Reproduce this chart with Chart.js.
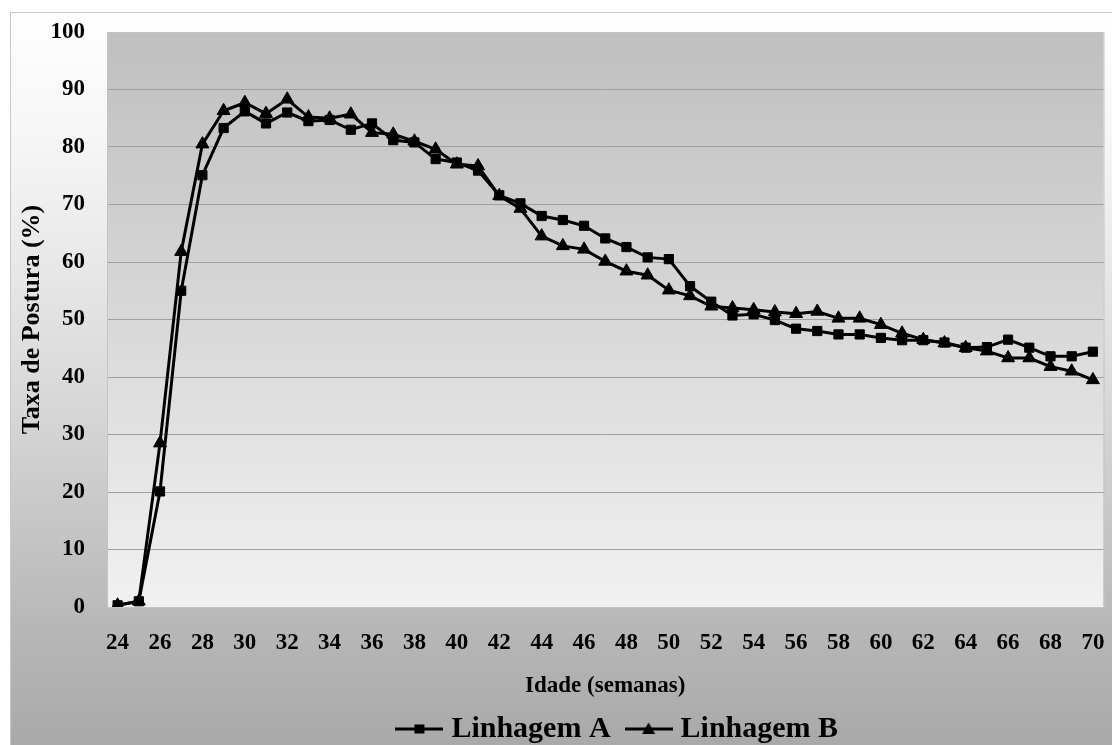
<!DOCTYPE html>
<html>
<head>
<meta charset="utf-8">
<script src="https://cdn.jsdelivr.net/npm/chart.js@4/dist/chart.umd.min.js"></script>
<style>
  html, body { margin: 0; padding: 0; background: #ffffff; overflow: hidden; }
  #wrap { position: relative; width: 1112px; height: 745px; }
</style>
</head>
<body>
<div id="wrap"><canvas id="c"></canvas></div>
<script>
// ---- data ----
const semanas = [24,25,26,27,28,29,30,31,32,33,34,35,36,37,38,39,40,41,42,43,44,45,46,47,
                 48,49,50,51,52,53,54,55,56,57,58,59,60,61,62,63,64,65,66,67,68,69,70];
const linhagemA = [0.3,1.0,20.1,55.0,75.1,83.3,86.2,84.1,86.0,84.5,84.7,83.0,84.1,81.2,80.8,77.9,
                   77.3,75.9,71.6,70.2,68.0,67.3,66.3,64.1,62.6,60.8,60.5,55.8,53.1,50.7,50.9,49.9,
                   48.4,48.0,47.4,47.4,46.8,46.4,46.4,46.0,45.1,45.2,46.5,45.1,43.6,43.6,44.4];
const linhagemB = [0.3,1.0,28.5,61.8,80.5,86.3,87.7,85.8,88.3,85.2,85.0,85.7,82.5,82.2,81.0,79.6,
                   77.0,76.7,71.5,69.3,64.5,62.8,62.2,60.1,58.4,57.7,55.1,54.1,52.3,52.0,51.7,51.3,
                   51.0,51.4,50.2,50.2,49.1,47.6,46.5,45.9,45.1,44.5,43.3,43.3,41.8,41.0,39.5];
const xTickLabels = ['24','26','28','30','32','34','36','38','40','42','44','46','48','50','52','54',
                     '56','58','60','62','64','66','68','70'];
const seriesNames = ['Linhagem A','Linhagem B'];
const yTitle = 'Taxa de Postura (%)';
const xTitle = 'Idade (semanas)';

const FONT = '"Liberation Serif", "Times New Roman", serif';

// legend symbols: line with marker
function legendSymbol(kind) {
  const c = document.createElement('canvas');
  c.width = 48; c.height = 16;
  const g = c.getContext('2d');
  g.strokeStyle = '#000'; g.lineWidth = 3;
  g.beginPath(); g.moveTo(0, 8); g.lineTo(48, 8); g.stroke();
  g.fillStyle = '#000';
  if (kind === 'rect') {
    g.fillRect(19, 3.5, 10, 9);
  } else {
    g.beginPath(); g.moveTo(24, 1.5); g.lineTo(30.5, 13); g.lineTo(17.5, 13); g.closePath(); g.fill();
  }
  return c;
}
const legendSymbols = [legendSymbol('rect'), legendSymbol('triangle')];

const backgroundPlugin = {
  id: 'bg',
  afterLayout(chart) {
    const l = chart.legend;
    if (l) { l.left += 15; l.right += 15; }
  },
  beforeDraw(chart) {
    const {ctx, width, height, chartArea: a} = chart;
    ctx.save();
    ctx.fillStyle = '#ffffff';
    ctx.fillRect(0, 0, width, height);
    const og = ctx.createLinearGradient(0, 12, 0, height);
    og.addColorStop(0, '#ffffff');
    og.addColorStop(0.2, '#f4f4f4');
    og.addColorStop(0.55, '#d6d6d6');
    og.addColorStop(0.85, '#b6b6b6');
    og.addColorStop(1, '#a9a9a9');
    ctx.fillStyle = og;
    ctx.fillRect(10, 12, width - 10, height - 12);
    ctx.strokeStyle = '#c8c8c8';
    ctx.lineWidth = 1;
    ctx.strokeRect(10.5, 12.5, width, height);
    const pg = ctx.createLinearGradient(0, a.top, 0, a.bottom);
    pg.addColorStop(0, '#bfbfbf');
    pg.addColorStop(1, '#f1f1f1');
    ctx.fillStyle = pg;
    ctx.fillRect(a.left, a.top, a.right - a.left, a.bottom - a.top);
    ctx.strokeStyle = '#c4c4c4';
    ctx.strokeRect(a.left + 0.5, a.top + 0.5, a.right - a.left, a.bottom - a.top);
    ctx.restore();
  }
};

new Chart(document.getElementById('c'), {
  type: 'line',
  data: {
    labels: semanas,
    datasets: [
      {
        label: seriesNames[0],
        data: linhagemA,
        borderColor: '#000000',
        backgroundColor: '#000000',
        borderWidth: 3,
        pointStyle: 'rect',
        pointRadius: 6.5,
        pointBorderWidth: 1,
        tension: 0,
        fill: false
      },
      {
        label: seriesNames[1],
        data: linhagemB,
        borderColor: '#000000',
        backgroundColor: '#000000',
        borderWidth: 3,
        pointStyle: 'triangle',
        pointRadius: 7.5,
        pointBorderWidth: 1,
        tension: 0,
        fill: false
      }
    ]
  },
  options: {
    responsive: true,
    maintainAspectRatio: false,
    animation: false,
    devicePixelRatio: 1,
    layout: { padding: { left: 10, right: 6, top: 32, bottom: -9 } },
    plugins: {
      legend: {
        position: 'bottom',
        fullSize: false,
        labels: {
          usePointStyle: true,
          pointStyleWidth: 34,
          padding: 21,
          color: '#000000',
          font: { family: FONT, size: 30, weight: 'bold' },
          generateLabels(chart) {
            const items = Chart.defaults.plugins.legend.labels.generateLabels(chart);
            items.forEach((it, i) => { it.pointStyle = legendSymbols[i]; it.rotation = 0; });
            return items;
          }
        }
      },
      tooltip: { enabled: false }
    },
    scales: {
      x: {
        type: 'category',
        offset: true,
        grid: { display: true, drawOnChartArea: false, drawTicks: true, tickLength: 22, tickColor: 'rgba(0,0,0,0)' },
        border: { display: true, color: '#c4c4c4', width: 1 },
        ticks: {
          autoSkip: false,
          maxRotation: 0,
          padding: 0,
          color: '#000000',
          font: { family: FONT, size: 23, weight: 'bold' },
          callback(v, i) { return i % 2 === 0 ? xTickLabels[i / 2] : ''; }
        },
        title: {
          display: true,
          text: xTitle,
          color: '#000000',
          font: { family: FONT, size: 23, weight: 'bold' },
          padding: { top: 0, bottom: -7 }
        },
        afterFit(s) { s.height = 86; }
      },
      y: {
        min: 0,
        max: 100,
        ticks: {
          stepSize: 10,
          padding: 0,
          color: '#000000',
          font: { family: FONT, size: 23, weight: 'bold' }
        },
        grid: {
          drawTicks: true,
          tickLength: 22,
          tickColor: 'rgba(0,0,0,0)',
          lineWidth: 1,
          color(ctx) { return ctx.tick && ctx.tick.value === 100 ? '#c4c4c4' : '#a0a0a0'; }
        },
        border: { display: true, color: '#c4c4c4', width: 1 },
        title: {
          display: true,
          text: yTitle,
          color: '#000000',
          font: { family: FONT, size: 26, weight: 'bold' },
          padding: { top: 7, bottom: 4 }
        },
        afterFit(s) { s.width = 97; }
      }
    }
  },
  plugins: [backgroundPlugin]
});
</script>
</body>
</html>
